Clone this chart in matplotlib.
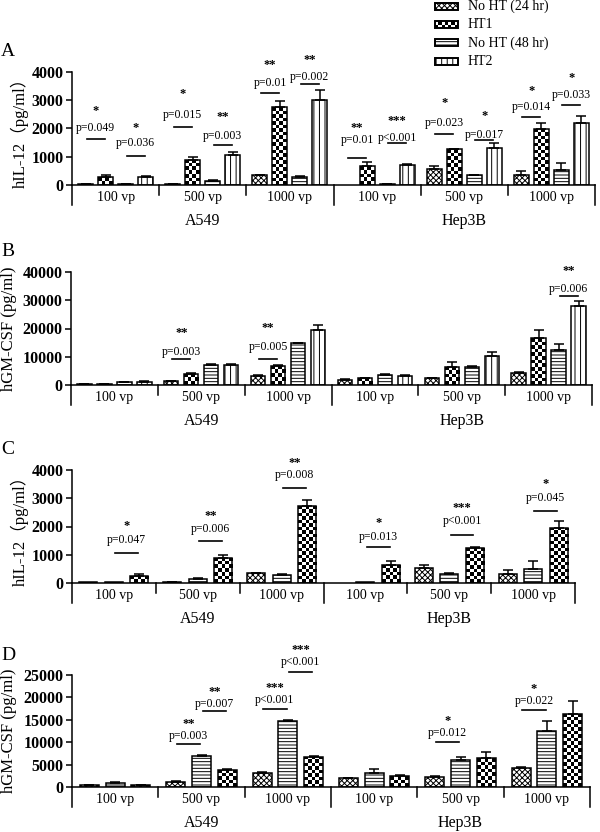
import numpy as np
import matplotlib.pyplot as plt
from matplotlib.patches import Rectangle

plt.rcParams['font.family'] = ['Liberation Serif', 'DejaVu Serif']
plt.rcParams['hatch.linewidth'] = 0.7

groups = ['100 vp', '500 vp', '1000 vp', '100 vp', '500 vp', '1000 vp']
cell_lines = ['A549', 'Hep3B']
series_names = ['No HT (24 hr)', 'HT1', 'No HT (48 hr)', 'HT2']

# A: hIL-12 ; bars = No HT (24 hr), HT1, No HT (48 hr), HT2
il12_a = [[20, 280, 20, 270], [30, 900, 150, 1050], [340, 2750, 300, 3000],
          [0, 670, 30, 720], [555, 1260, 340, 1320], [350, 1980, 530, 2180]]
il12_a_err = [[5, 60, 5, 40], [5, 90, 30, 130], [20, 220, 30, 350],
              [0, 150, 5, 10], [110, 20, 20, 150], [140, 230, 260, 260]]
# (group, bar i, bar j, line y, text y, star y, p text, stars)
il12_a_ann = [(0, 0, 1, 1620, 2010, 2630, 'p=0.049', '*'),
              (0, 2, 3, 1030, 1475, 2030, 'p=0.036', '*'),
              (1, 0, 1, 2065, 2480, 3220, 'p=0.015', '*'),
              (1, 2, 3, 1415, 1735, 2395, 'p=0.003', '**'),
              (2, 0, 1, 3245, 3600, 4250, 'p=0.01', '**'),
              (2, 2, 3, 3575, 3835, 4435, 'p=0.002', '**'),
              (3, 0, 1, 965, 1590, 2005, 'p=0.01', '**'),
              (3, 2, 3, 1475, 1660, 2265, 'p<0.001', '***'),
              (4, 0, 1, 1805, 2205, 2910, 'p=0.023', '*'),
              (4, 2, 3, 1590, 1760, 2440, 'p=0.017', '*'),
              (5, 0, 1, 2420, 2770, 3340, 'p=0.014', '*'),
              (5, 2, 3, 2830, 3185, 3775, 'p=0.033', '*')]

# B: hGM-CSF ; same four conditions
gmcsf_b = [[350, 450, 1000, 1200], [1300, 3900, 7100, 7100], [3300, 6800, 14700, 19400],
           [1900, 2350, 3400, 3200], [2350, 6500, 6200, 10350], [4300, 16500, 12350, 28000]]
gmcsf_b_err = [[50, 50, 100, 100], [100, 300, 300, 200], [300, 300, 300, 1900],
               [100, 200, 400, 200], [300, 1500, 500, 1500], [300, 2800, 2300, 1800]]
gmcsf_b_ann = [(1, 0, 1, 9170, 11520, 18350, 'p=0.003', '**'),
               (2, 0, 1, 9170, 13290, 20350, 'p=0.005', '**'),
               (5, 2, 3, 31500, 34000, 40350, 'p=0.006', '**')]

# C: hIL-12 ; bars = No HT (24 hr), No HT (48 hr), HT1
il12_c = [[20, 20, 260], [35, 140, 900], [350, 300, 2710],
          [0, 30, 640], [530, 330, 1250], [330, 500, 1950]]
il12_c_err = [[0, 0, 70], [5, 30, 100], [20, 30, 240],
              [0, 0, 150], [90, 10, 20], [140, 290, 250]]
il12_c_ann = [(0, 1, 2, 1060, 1530, 2020, 'p=0.047', '*'),
              (1, 1, 2, 1495, 1905, 2375, 'p=0.006', '**'),
              (2, 1, 2, 3350, 3820, 4235, 'p=0.008', '**'),
              (3, 1, 2, 1270, 1645, 2140, 'p=0.013', '*'),
              (4, 1, 2, 1705, 2200, 2645, 'p<0.001', '***'),
              (5, 1, 2, 2550, 3000, 3495, 'p=0.045', '*')]

# D: hGM-CSF ; bars = No HT (24 hr), No HT (48 hr), HT1
gmcsf_d = [[375, 975, 450], [1130, 6830, 3830], [3230, 14650, 6760],
           [1950, 3230, 2400], [2180, 6080, 6460], [4200, 12400, 16370]]
gmcsf_d_err = [[30, 100, 30], [100, 300, 200], [200, 200, 100],
               [100, 800, 250], [300, 700, 1300], [300, 2250, 2800]]
gmcsf_d_ann = [(1, 0, 1, 9610, 11490, 14100, 'p=0.003', '**'),
               (1, 1, 2, 16970, 18620, 21200, 'p=0.007', '**'),
               (2, 0, 1, 17350, 19530, 22200, 'p<0.001', '***'),
               (2, 1, 2, 25760, 28010, 30640, 'p<0.001', '***'),
               (4, 0, 1, 10140, 12090, 14700, 'p=0.012', '*'),
               (5, 0, 1, 17120, 19230, 21850, 'p=0.022', '*')]

W, H = 600, 832
fig = plt.figure(figsize=(6, 8.32), dpi=100)
HATCH = {'fine': 'xxxxxx', 'hlines': '-----', 'vlines': '|||'}
CELL = 3.5  # checker square, px


def checker(ax, x0, y0, w, h, nx, ny, z):
    cb = np.indices((max(ny, 1), max(nx, 1))).sum(axis=0) % 2
    im = ax.imshow(cb, cmap='gray', vmin=0, vmax=1, extent=(x0, x0 + w, y0, y0 + h),
                   aspect='auto', interpolation='nearest', zorder=z)
    return im


def draw_panel(rect, vals, errs, anns, styles, ymax, ticks, ylabel, letter,
               step, width, ylab_x):
    left, right, y0, y1 = rect
    ax = fig.add_axes([left / W, 1 - y0 / H, (right - left) / W, (y0 - y1) / H])
    wpx, hpx = right - left, y0 - y1
    ppx, ppy = wpx / 6, hpx / ymax
    nb = len(styles)
    for g, (gv, ge) in enumerate(zip(vals, errs)):
        for i, (v, e) in enumerate(zip(gv, ge)):
            x = g + 0.5 + (i - (nb - 1) / 2) * step
            if v <= 0:
                continue
            st = styles[i]
            if st == 'checker':
                face = ax.bar(x, v, width, color='white', edgecolor='none', zorder=2)[0]
                im = checker(ax, x - width / 2, 0, width, v,
                             int(round(width * ppx / CELL)), int(round(v * ppy / CELL)), 2.5)
                im.set_clip_path(face)
                ax.bar(x, v, width, facecolor='none', edgecolor='black', lw=1.1, zorder=3)
            else:
                ax.bar(x, v, width, color='white', edgecolor='black', hatch=HATCH[st],
                       lw=1.1, zorder=3)
            if e > 0:
                ax.errorbar(x, v, yerr=[[0], [e]], fmt='none', ecolor='black',
                            elinewidth=1.1, capsize=3.5, capthick=1.1, zorder=4)
    for g, i, j, ly, ty, sy, p, stars in anns:
        xi = g + 0.5 + (i - (nb - 1) / 2) * step
        xj = g + 0.5 + (j - (nb - 1) / 2) * step
        ax.plot([xi + 0.05 * step, xj - 0.05 * step], [ly, ly], color='black', lw=1.2,
                clip_on=False, zorder=5)
        xm = (xi + xj) / 2
        ax.text(xm, ty, p, ha='center', va='center', fontsize=8.5, clip_on=False)
        ax.text(xm, sy, stars, ha='center', va='center', fontsize=9, fontweight='bold',
                clip_on=False)

    ax.set_xlim(0, 6)
    ax.set_ylim(0, ymax)
    ax.set_yticks(ticks)
    ax.set_xticks([])
    ax.tick_params(axis='y', direction='out', length=4, width=1.1, labelsize=11.5, pad=2)
    for t in ax.get_yticklabels():
        t.set_fontweight('bold')
    for s in ['top', 'right', 'bottom']:
        ax.spines[s].set_visible(False)
    ax.spines['left'].set_linewidth(1.1)
    ax.axhline(0, color='black', lw=1.1, zorder=6, clip_on=False)
    xt = ax.get_xaxis_transform()
    for k in range(7):
        ln = 20 if k in (0, 3, 6) else 10
        ax.plot([k, k], [0, -ln / hpx], color='black', lw=1.1, transform=xt, clip_on=False)
    for g, lab in enumerate(groups):
        ax.annotate(lab, (g + 0.5, 0), xycoords=xt, xytext=(0, -12), textcoords='offset pixels',
                    ha='center', va='center', fontsize=10)
    for c, lab in enumerate(cell_lines):
        ax.annotate(lab, (1.5 + 3 * c, 0), xycoords=xt, xytext=(0, -36),
                    textcoords='offset pixels', ha='center', va='center', fontsize=11.5)
    fig.text(ylab_x / W, 1 - (y0 + y1) / 2 / H, ylabel, rotation=90, ha='center', va='center',
             fontsize=12, family=['Liberation Serif', 'Noto Sans CJK SC'])
    fig.text(8 / W, 1 - (y1 - 20) / H, letter, ha='center', va='center', fontsize=14)
    return ax


draw_panel((72, 595, 185, 72), il12_a, il12_a_err, il12_a_ann,
           ['fine', 'checker', 'hlines', 'vlines'], 4000, range(0, 4001, 1000),
           'hIL-12（pg/ml）', 'A', 0.229, 0.172, 20)
draw_panel((71, 592, 385, 272), gmcsf_b, gmcsf_b_err, gmcsf_b_ann,
           ['fine', 'checker', 'hlines', 'vlines'], 40000, range(0, 40001, 10000),
           'hGM-CSF (pg/ml)', 'B', 0.230, 0.165, 9)
draw_panel((72, 575, 583, 470), il12_c, il12_c_err, il12_c_ann,
           ['fine', 'hlines', 'checker'], 4000, range(0, 4001, 1000),
           'hIL-12（pg/ml）', 'C', 0.304, 0.215, 20)
draw_panel((72, 590, 787, 675), gmcsf_d, gmcsf_d_err, gmcsf_d_ann,
           ['fine', 'hlines', 'checker'], 25000, range(0, 25001, 5000),
           'hGM-CSF (pg/ml)', 'D', 0.299, 0.22, 9)

# legend drawn in pixel space
lg = fig.add_axes([430 / W, 1 - 70 / H, 170 / W, 70 / H])
lg.axis('off')
legend_styles = ['fine', 'checker', 'hlines', 'vlines']
for k, (name, st) in enumerate(zip(series_names, legend_styles)):
    yc = 6 + k * 18.4
    if st == 'checker':
        r = Rectangle((5, yc - 3.5), 23, 7, facecolor='white', edgecolor='none')
        lg.add_patch(r)
        im = checker(lg, 5, yc - 3.5, 23, 7, 7, 2, 2.5)
        im.set_clip_path(r)
        lg.add_patch(Rectangle((5, yc - 3.5), 23, 7, facecolor='none', edgecolor='black',
                               lw=1.4, zorder=3))
    else:
        lg.add_patch(Rectangle((5, yc - 3.5), 23, 7, facecolor='white', edgecolor='black',
                               hatch=HATCH[st], lw=1.4, zorder=3))
    lg.text(38, yc, name, ha='left', va='center', fontsize=10)
lg.set_xlim(0, 170)
lg.set_ylim(70, 0)

fig.savefig('out.png', dpi=100)
